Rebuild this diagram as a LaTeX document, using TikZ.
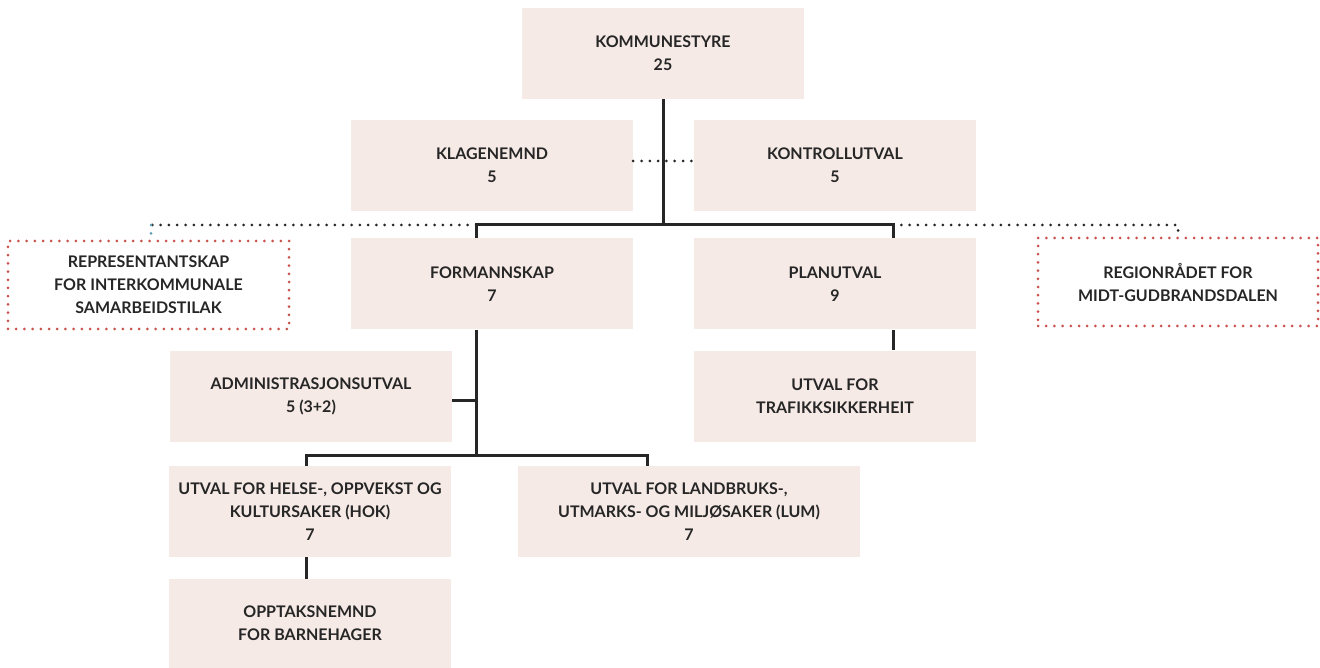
\documentclass[tikz,border=0pt]{standalone}
\usepackage{fontspec}
\setmainfont{Lato}
\usepackage{xcolor}
\usetikzlibrary{positioning}
\definecolor{boxfill}{HTML}{F5EAE6}
\definecolor{boxtext}{HTML}{262626}
\definecolor{dotred}{HTML}{C9524C}
\definecolor{dotteal}{HTML}{5E9DB3}
\tikzset{
	unit/.style={rectangle, fill=boxfill, text=boxtext, minimum width=282pt, minimum height=91pt, inner sep=0pt, align=center, font=\fontsize{16}{23}\selectfont\bfseries},
	extern/.style={unit, fill=none, draw=dotred, line width=3pt, dash pattern=on 0pt off 8.2pt, line cap=round},
	conn/.style={line width=3pt, draw=boxtext},
	dots/.style={line width=3pt, draw=boxtext, dash pattern=on 0pt off 8.3pt, line cap=round}
}
\begin{document}
\begin{tikzpicture}[x=1pt, y=-1pt]
		\useasboundingbox (0,0) rectangle (1320,668);
		\node[unit] (ks) at (663,53.5) {KOMMUNESTYRE\\25};
		\node[unit] (kn) at (492,165.5) {KLAGENEMND\\5};
		\node[unit] (ku) at (835,165.5) {KONTROLLUTVAL\\5};
		\node[unit] (fs) at (492,284) {FORMANNSKAP\\7};
		\node[unit] (pu) at (835,284) {PLANUTVAL\\9};
		\node[extern, minimum width=281pt, minimum height=88pt] (rep) at (148.5,285) {REPRESENTANTSKAP\\FOR INTERKOMMUNALE\\SAMARBEIDSTILAK};
		\node[extern, minimum width=280pt, minimum height=88pt] (reg) at (1178,282) {REGIONRÅDET FOR\\MIDT-GUDBRANDSDALEN};
		\node[unit] (adm) at (311,396.5) {ADMINISTRASJONSUTVAL\\5 (3+2)};
		\node[unit] (tr) at (835,396) {UTVAL FOR\\TRAFIKKSIKKERHEIT};
		\node[unit] (hok) at (310,511.5) {UTVAL FOR HELSE-, OPPVEKST OG\\KULTURSAKER (HOK)\\7};
		\node[unit, minimum width=342pt] (lum) at (689,511.5) {UTVAL FOR LANDBRUKS-,\\UTMARKS- OG MILJØSAKER (LUM)\\7};
		\node[unit, minimum height=89pt] (opp) at (310,623.5) {OPPTAKSNEMND\\FOR BARNEHAGER};
		
		\coordinate (bus) at (663,225);
		\coordinate (sub) at (476,455);
		\draw[conn] (ks.south) -- (bus);
		\draw[conn] ([xshift=-16pt]fs.north) |- (bus) -| ([xshift=58pt]pu.north);
		\draw[conn] ([xshift=-16pt]fs.south) -- (sub);
		\draw[conn] ([yshift=-4pt]adm.east) -- ([yshift=-4pt]adm.east -| sub);
		\draw[conn] ([xshift=-4pt]hok.north) |- (sub) -| ([xshift=-42pt]lum.north);
		\draw[conn] ([xshift=-4pt]hok.south) -- ([xshift=-4pt]opp.north);
		\draw[conn] ([xshift=58pt]pu.south) -- ([xshift=58pt]tr.north);
		\draw[dots] ([yshift=4.5pt]kn.east) -- ([yshift=4.5pt]ku.west);
		\draw[dots] ([xshift=-16pt]fs.north |- bus) -- ([xshift=2.5pt]rep.north |- bus);
		\draw[dots, draw=dotteal] ([xshift=2.5pt]rep.north |- bus) -- ([xshift=2.5pt]rep.north);
		\draw[dots] ([xshift=58pt]pu.north |- bus) -| (reg.north);
		\end{tikzpicture}
\end{document}
